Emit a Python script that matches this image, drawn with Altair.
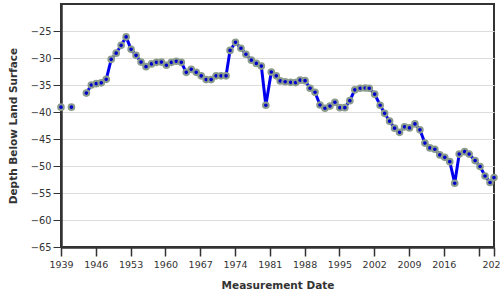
import altair as alt
import pandas as pd

years = [1939.0, 1941.1, 1944.1, 1945.1, 1946.1, 1947.1, 1948.1, 1949.1, 1950.1, 1951.1,
         1952.1, 1953.1, 1954.1, 1955.1, 1956.1, 1957.2, 1958.2, 1959.2, 1960.2, 1961.2,
         1962.2, 1963.2, 1964.2, 1965.2, 1966.2, 1967.2, 1968.2, 1969.2, 1970.2, 1971.2,
         1972.2, 1973.0, 1974.1, 1975.2, 1976.2, 1977.3, 1978.3, 1979.3, 1980.2, 1981.3,
         1982.3, 1983.1, 1984.1, 1985.2, 1986.2, 1987.1, 1988.1, 1989.1, 1990.1, 1991.1,
         1992.1, 1993.1, 1994.1, 1995.1, 1996.1, 1997.1, 1998.1, 1999.2, 2000.2, 2001.0,
         2002.1, 2003.2, 2004.1, 2005.1, 2006.1, 2007.1, 2008.1, 2009.1, 2010.2, 2011.2,
         2012.2, 2013.2, 2014.2, 2015.2, 2016.2, 2017.2, 2018.2, 2019.1, 2020.2, 2021.1,
         2022.3, 2023.3, 2024.3, 2025.3, 2026.1]
depths = [-39.1, -39.1, -36.5, -35.0, -34.75, -34.6, -33.95, -30.25, -29.1, -27.65,
          -26.1, -28.4, -29.5, -30.75, -31.6, -31.1, -30.8, -30.75, -31.35, -30.8,
          -30.6, -30.8, -32.65, -32.1, -32.65, -33.3, -34.0, -34.0, -33.3, -33.3,
          -33.3, -28.6, -27.1, -28.2, -29.3, -30.4, -31.0, -31.5, -38.75, -32.6,
          -33.3, -34.25, -34.4, -34.5, -34.55, -34.1, -34.2, -35.6, -36.35, -38.7,
          -39.3, -38.9, -38.2, -39.2, -39.2, -37.9, -35.9, -35.6, -35.55, -35.6,
          -36.7, -38.75, -40.25, -41.7, -43.0, -43.76, -42.75, -42.95, -42.2, -43.3,
          -45.75, -46.65, -46.9, -47.95, -48.4, -49.2, -53.2, -47.8, -47.35, -47.8,
          -49.0, -50.1, -51.85, -53.05, -52.15]

x_ticks = [1939, 1946, 1953, 1960, 1967, 1974, 1981, 1988, 1995, 2002, 2009, 2016, 2023, 2026.1]
y_ticks = [-65, -60, -55, -50, -45, -40, -35, -30, -25]

df = pd.DataFrame({"year": years, "depth": depths})
# break the line where measurements are more than ~1.5 years apart
seg = (df["year"].diff().fillna(99) > 1.5).cumsum()
df["seg"] = seg

FONT = "DejaVu Sans"

x = alt.X("year:Q", title="Measurement Date",
          scale=alt.Scale(domain=[1939, 2026.1], nice=False, zero=False),
          axis=alt.Axis(values=x_ticks, format="d", grid=False,
                        labelExpr="datum.value == 2023 ? '' : datum.label",
                        labelFlush=False, labelOverlap=False,
                        tickSize=9, tickColor="#333", tickWidth=1.5,
                        domainColor="#333", domainWidth=2.5,
                        labelFontSize=9.5, labelColor="#333", labelPadding=3,
                        titleFontSize=10.5, titleFontWeight="bold", titleColor="#333",
                        titlePadding=12))
y = alt.Y("depth:Q", title="Depth Below Land Surface",
          scale=alt.Scale(domain=[-65, -20], nice=False, zero=False),
          axis=alt.Axis(values=y_ticks, grid=True, gridColor="#dcdcdc", gridWidth=1,
                        tickSize=8, tickColor="#333", tickWidth=1,
                        domainColor="#333", domainWidth=2.5,
                        labelFontSize=9.8, labelColor="#333", labelPadding=2,
                        titleFontSize=10.5, titleFontWeight="bold", titleColor="#333",
                        titlePadding=12))

line = alt.Chart(df).mark_line(color="#0000ee", strokeWidth=3).encode(
    x=x, y=y, detail="seg:N")
points = alt.Chart(df).mark_point(filled=True, fill="#0000cc", stroke="#8c9c8c",
                                  strokeWidth=2, size=32, opacity=1).encode(x=x, y=y)

chart = (line + points).properties(
    width=433, height=243,
    padding={"left": 61, "top": 4, "right": 6, "bottom": 53},
    autosize="none",
).configure(font=FONT).configure_view(stroke="#333", strokeWidth=2)

chart.save("out.html", embed_options={"renderer": "svg", "actions": False})
